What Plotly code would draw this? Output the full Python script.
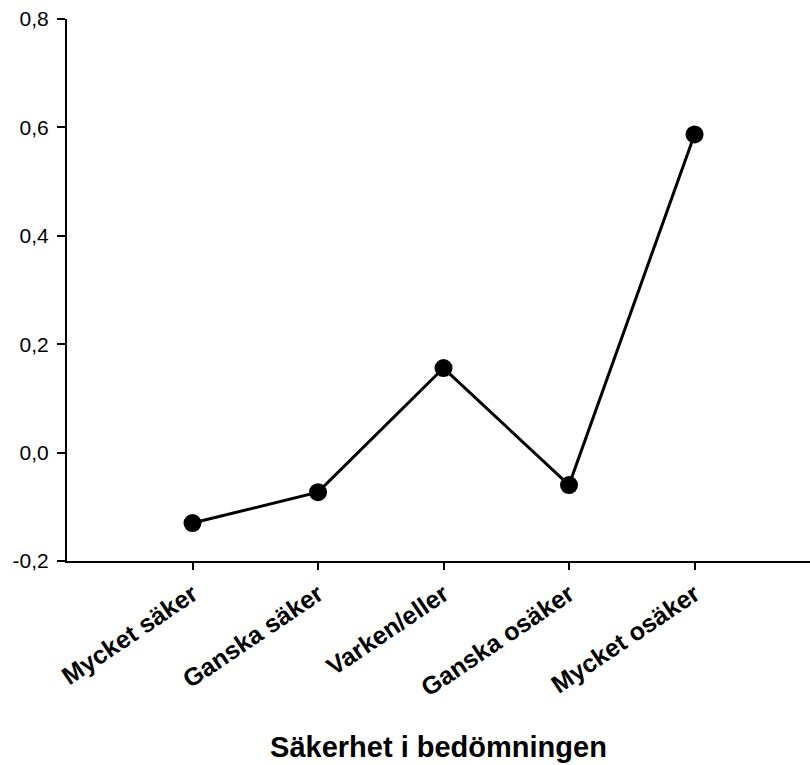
import plotly.graph_objects as go

categories = ["Mycket säker", "Ganska säker", "Varken/eller", "Ganska osäker", "Mycket osäker"]
values = [-0.130, -0.073, 0.156, -0.060, 0.587]
y_ticks = [-0.2, 0.0, 0.2, 0.4, 0.6, 0.8]
y_tick_labels = ["-0,2", "0,0", "0,2", "0,4", "0,6", "0,8"]
x_positions = list(range(1, len(categories) + 1))

font_family = "Liberation Sans, Arial, sans-serif"

fig = go.Figure(
    go.Scatter(
        x=x_positions,
        y=values,
        mode="lines+markers",
        line=dict(color="black", width=3),
        marker=dict(color="black", size=18),
        cliponaxis=False,
    )
)

fig.update_layout(
    width=810,
    height=765,
    margin=dict(l=67, r=0, t=19, b=204),
    paper_bgcolor="white",
    plot_bgcolor="white",
    showlegend=False,
    font=dict(family=font_family, color="black"),
)

fig.update_xaxes(
    range=[0, 5.92],
    tickvals=x_positions,
    ticktext=[f"<b>{c}</b>" for c in categories],
    tickangle=-34,
    tickfont=dict(size=25, family=font_family),
    ticks="outside",
    ticklen=7,
    tickwidth=1.5,
    tickcolor="black",
    showline=True,
    linecolor="black",
    linewidth=2,
    showgrid=False,
    zeroline=False,
    automargin=False,
    title=dict(
        text="<b>Säkerhet i bedömningen</b>",
        font=dict(size=29, family=font_family),
        standoff=36,
    ),
)

fig.update_yaxes(
    range=[-0.2, 0.8],
    tickvals=y_ticks,
    ticktext=y_tick_labels,
    tickfont=dict(size=21, family=font_family),
    ticks="outside",
    ticklen=8,
    tickwidth=1.5,
    tickcolor="black",
    ticklabelstandoff=4,
    showline=True,
    linecolor="black",
    linewidth=2,
    showgrid=False,
    zeroline=False,
    automargin=False,
)

fig.write_html("out.html")
